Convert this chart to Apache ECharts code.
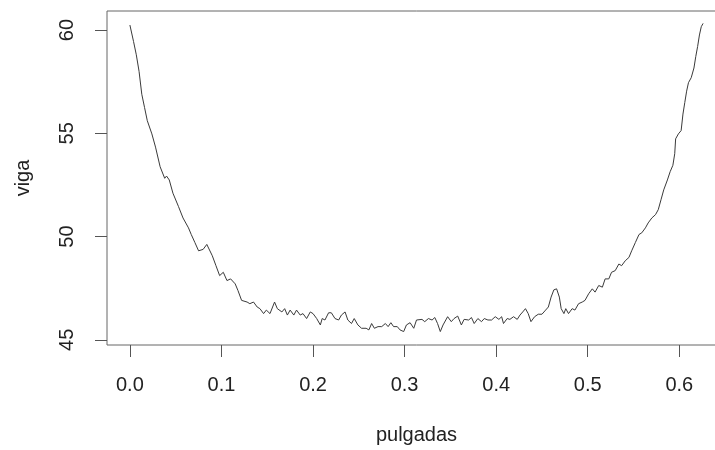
<!DOCTYPE html>
<html>
<head>
<meta charset="UTF-8">
<title>viga vs pulgadas</title>
<script src="https://cdn.jsdelivr.net/npm/echarts@6/dist/echarts.min.js"></script>
<style>
  * { margin: 0; padding: 0; }
  html, body { overflow: hidden; background: #fff; }
  #main { width: 730px; height: 450px; }
</style>
</head>
<body>
<div id="main"></div>
<script>
// values
var pulgadas = [
  0.000, 0.004, 0.007, 0.010, 0.013, 0.016, 0.019, 0.024, 0.028, 0.033,
  0.038, 0.040, 0.043, 0.047, 0.053, 0.058, 0.064, 0.067, 0.071, 0.075,
  0.080, 0.084, 0.086, 0.090, 0.094, 0.098, 0.102, 0.106, 0.110, 0.115,
  0.118, 0.122, 0.128, 0.131, 0.135, 0.139, 0.142, 0.146, 0.149, 0.153,
  0.158, 0.161, 0.166, 0.169, 0.172, 0.175, 0.179, 0.182, 0.186, 0.189,
  0.193, 0.197, 0.200, 0.204, 0.208, 0.210, 0.213, 0.217, 0.220, 0.224,
  0.228, 0.231, 0.235, 0.238, 0.242, 0.245, 0.249, 0.253, 0.258, 0.261,
  0.264, 0.267, 0.271, 0.275, 0.279, 0.282, 0.285, 0.288, 0.292, 0.295,
  0.299, 0.302, 0.306, 0.310, 0.313, 0.315, 0.319, 0.322, 0.326, 0.330,
  0.333, 0.336, 0.339, 0.342, 0.347, 0.351, 0.354, 0.358, 0.362, 0.365,
  0.370, 0.373, 0.376, 0.380, 0.384, 0.387, 0.391, 0.395, 0.399, 0.403,
  0.406, 0.408, 0.412, 0.415, 0.419, 0.423, 0.426, 0.429, 0.432, 0.435,
  0.438, 0.442, 0.446, 0.450, 0.454, 0.457, 0.460, 0.463, 0.466, 0.469,
  0.471, 0.474, 0.476, 0.479, 0.483, 0.486, 0.490, 0.494, 0.497, 0.501,
  0.505, 0.508, 0.512, 0.516, 0.519, 0.523, 0.526, 0.530, 0.534, 0.537,
  0.541, 0.545, 0.548, 0.552, 0.556, 0.559, 0.563, 0.566, 0.570, 0.574,
  0.577, 0.580, 0.583, 0.587, 0.590, 0.593, 0.595, 0.596, 0.599, 0.602,
  0.604, 0.606, 0.608, 0.610, 0.613, 0.616, 0.618, 0.620, 0.622, 0.624,
  0.626
];
var viga = [
  60.24, 59.44, 58.80, 58.00, 56.89, 56.25, 55.61, 54.97, 54.33, 53.38,
  52.82, 52.93, 52.74, 52.10, 51.46, 50.90, 50.42, 50.10, 49.71, 49.31,
  49.38, 49.62, 49.55, 49.07, 48.59, 48.11, 48.27, 47.87, 47.95, 47.71,
  47.39, 46.91, 46.83, 46.75, 46.83, 46.59, 46.51, 46.27, 46.44, 46.27,
  46.83, 46.51, 46.35, 46.51, 46.20, 46.44, 46.20, 46.44, 46.20, 46.27,
  46.03, 46.35, 46.27, 46.03, 45.72, 46.03, 45.96, 46.31, 46.31, 46.03,
  45.96, 46.20, 46.35, 45.96, 45.79, 46.03, 45.72, 45.56, 45.56, 45.48,
  45.79, 45.56, 45.64, 45.64, 45.79, 45.64, 45.83, 45.64, 45.64, 45.48,
  45.40, 45.72, 45.83, 45.56, 45.96, 45.88, 45.99, 45.88, 46.03, 45.96,
  46.08, 45.79, 45.40, 45.72, 46.12, 45.88, 46.03, 46.15, 45.72, 45.99,
  45.96, 46.08, 45.79, 46.03, 45.88, 46.03, 45.96, 45.96, 46.12, 45.99,
  46.12, 45.79, 46.03, 45.99, 46.12, 45.99, 46.20, 46.35, 46.51, 46.27,
  45.88, 46.12, 46.24, 46.24, 46.44, 46.59, 47.07, 47.42, 47.47, 47.07,
  46.51, 46.27, 46.51, 46.27, 46.51, 46.44, 46.75, 46.83, 46.91, 47.23,
  47.47, 47.31, 47.63, 47.55, 47.95, 47.95, 48.27, 48.35, 48.67, 48.59,
  48.83, 48.99, 49.31, 49.71, 50.10, 50.18, 50.42, 50.66, 50.90, 51.06,
  51.30, 51.78, 52.26, 52.74, 53.14, 53.45, 54.01, 54.73, 54.97, 55.13,
  55.93, 56.49, 57.04, 57.45, 57.69, 58.16, 58.72, 59.20, 59.76, 60.16,
  60.32
];
var xTicks = [0, 0.1, 0.2, 0.3, 0.4, 0.5, 0.6];
var yTicks = [45, 50, 55, 60];

var points = [];
for (var i = 0; i < pulgadas.length; i++) {
  points.push([pulgadas[i], viga[i]]);
}

var font = '"Liberation Sans", Arial, sans-serif';
var chart = echarts.init(document.getElementById('main'));
chart.setOption({
  animation: false,
  backgroundColor: '#fff',
  grid: {
    left: 107, top: 11, right: 4, height: 338,
    show: true, borderColor: '#666', borderWidth: 1
  },
  xAxis: {
    type: 'value',
    min: -0.025, max: 0.651,
    name: 'pulgadas',
    nameLocation: 'middle',
    nameGap: 80,
    nameTextStyle: { fontFamily: font, fontSize: 20, color: '#222' },
    axisLine: { show: false, onZero: false },
    splitLine: { show: false },
    axisTick: { show: true, inside: false, length: 12, customValues: xTicks,
      lineStyle: { color: '#555' } },
    axisLabel: { customValues: xTicks, margin: 30, fontFamily: font, fontSize: 20, color: '#222',
      formatter: function (v) { return v.toFixed(1); } }
  },
  yAxis: {
    type: 'value',
    min: 44.75, max: 60.92,
    name: 'viga',
    nameLocation: 'middle',
    nameGap: 74,
    nameTextStyle: { fontFamily: font, fontSize: 20, color: '#222' },
    axisLine: { show: false, onZero: false },
    splitLine: { show: false },
    axisTick: { show: true, inside: false, length: 12, customValues: yTicks,
      lineStyle: { color: '#555' } },
    axisLabel: { customValues: yTicks, rotate: 90, margin: 30, fontFamily: font, fontSize: 20, color: '#222' }
  },
  series: [{
    type: 'line',
    data: points,
    showSymbol: false,
    lineStyle: { color: '#3a3a3a', width: 1 }
  }]
});
</script>
</body>
</html>
